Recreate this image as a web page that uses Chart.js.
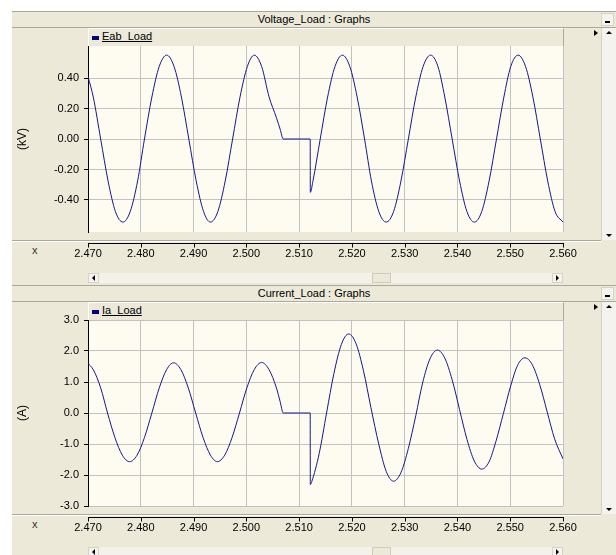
<!DOCTYPE html>
<html>
<head>
<meta charset="utf-8">
<script src="https://cdn.jsdelivr.net/npm/chart.js@4.4.0/dist/chart.umd.min.js"></script>
<style>
body { margin: 0; background: #fff; font-family: "Liberation Sans", Arial, sans-serif; font-size: 11px; color: #000; }
#win { position: absolute; left: 12px; top: 11px; width: 604px; height: 544px; background: #ece9d8; }
.a { position: absolute; }
.title { left: 12px; width: 604px; height: 15px; line-height: 15px; text-align: center;
  border-top: 1px solid #aca899; border-bottom: 1px solid #aca899; background: #ece9d8; }
.strip { left: 88px; width: 474px; height: 17px; border-top: 1px solid #fff; border-left: 1px solid #fff;
  border-right: 1px solid #aca899; background: #ece9d8; z-index: 2; }
.lgbox { width: 7px; height: 4px; background: #000080; z-index: 3; }
.lgtxt { text-decoration: underline; z-index: 3; }
.sep { left: 12px; width: 589px; height: 1px; background: #aca899; border-bottom: 1px solid #fff; }
.htrack { left: 88px; width: 475px; height: 10px; background: #f3f1e8; }
.btn { background: #f4f3ee; border: 1px solid #d6d3c6; box-sizing: border-box; }
.thumb { background: #ece9d8; border: 1px solid #cfccbf; box-sizing: border-box; }
.vtrack { left: 601px; width: 15px; height: 212px; background: #f4f3ee; border-left: 1px solid #d6d3c6; box-sizing: border-box; }
.tri { width: 0; height: 0; }
canvas { position: absolute; left: 12px; z-index: 1; }
</style>
</head>
<body>
<div id="win"></div>
<div id="chrome"></div>
<canvas id="vChart" width="590" height="234"></canvas>
<canvas id="iChart" width="590" height="234"></canvas>
<script>
// window titles and series names
const panelTitles = ['Voltage_Load : Graphs', 'Current_Load : Graphs'];
const seriesNames = ['Eab_Load', 'Ia_Load'];
const yTitles = ['(kV)', '(A)'];

// x axis (time, s)
const xTicks = [2.47, 2.48, 2.49, 2.50, 2.51, 2.52, 2.53, 2.54, 2.55, 2.56];

// Eab_Load (kV)
const vTime = [2.4700, 2.4710, 2.4724, 2.4738, 2.4752, 2.4766, 2.4780, 2.4794, 2.4807, 2.4821,
  2.4835, 2.4849, 2.4863, 2.4877, 2.4891, 2.4905, 2.4919, 2.4932, 2.4946, 2.4960,
  2.4974, 2.4988, 2.5002, 2.5015, 2.5029, 2.5043, 2.5057, 2.5064, 2.5070, 2.5121,
  2.51212, 2.5126, 2.5140, 2.5154, 2.5168, 2.5182, 2.5196, 2.5210, 2.5224, 2.5237,
  2.5251, 2.5265, 2.5279, 2.5293, 2.5307, 2.5321, 2.5335, 2.5349, 2.5363, 2.5376,
  2.5390, 2.5404, 2.5418, 2.5432, 2.5446, 2.5460, 2.5474, 2.5488, 2.5501, 2.5515,
  2.5529, 2.5543, 2.5557, 2.5571, 2.5585, 2.5600];
const vVals = [0.41, 0.275, 0, -0.275, -0.476, -0.545, -0.476, -0.275, 0, 0.275,
  0.476, 0.55, 0.476, 0.275, 0, -0.275, -0.476, -0.545, -0.476, -0.275,
  0, 0.275, 0.476, 0.55, 0.476, 0.277, 0.14, 0.065, 0, 0,
  -0.35, -0.28, 0, 0.275, 0.476, 0.55, 0.476, 0.275, 0, -0.275,
  -0.476, -0.545, -0.476, -0.275, 0, 0.275, 0.476, 0.55, 0.476, 0.275,
  0, -0.275, -0.476, -0.545, -0.476, -0.275, 0, 0.275, 0.476, 0.55,
  0.476, 0.275, 0, -0.275, -0.476, -0.545];
const vTicks = [0.4, 0.2, 0, -0.2, -0.4];

// Ia_Load (A)
const iTime = [2.4700, 2.4710, 2.4724, 2.4737, 2.4751, 2.4765, 2.4779, 2.4793, 2.4807, 2.4821,
  2.4835, 2.4849, 2.4862, 2.4876, 2.4890, 2.4904, 2.4918, 2.4932, 2.4945, 2.4959,
  2.4973, 2.4987, 2.5001, 2.5015, 2.5029, 2.5043, 2.5057, 2.5064, 2.5070, 2.5121,
  2.51212, 2.5124, 2.5138, 2.5152, 2.5166, 2.5180, 2.5194, 2.5208, 2.5222, 2.5236,
  2.5251, 2.5265, 2.5279, 2.5293, 2.5307, 2.5321, 2.5334, 2.5348, 2.5362, 2.5376,
  2.5390, 2.5404, 2.5418, 2.5432, 2.5446, 2.5460, 2.5473, 2.5487, 2.5501, 2.5514,
  2.5528, 2.5542, 2.5556, 2.5570, 2.5584, 2.5600];
const iVals = [1.60, 1.40, 0.81, 0, -0.79, -1.36, -1.57, -1.36, -0.79, 0,
  0.81, 1.40, 1.62, 1.40, 0.81, 0, -0.79, -1.36, -1.57, -1.36,
  -0.79, 0, 0.81, 1.40, 1.63, 1.40, 0.81, 0.37, 0, 0,
  -2.31, -2.21, -1.31, 0, 1.28, 2.21, 2.55, 2.23, 1.36, 0.18,
  -1.01, -1.88, -2.20, -1.92, -1.14, -0.09, 0.97, 1.75, 2.03, 1.77,
  1.07, 0.11, -0.85, -1.55, -1.81, -1.57, -0.91, -0.02, 0.88, 1.54,
  1.78, 1.55, 0.91, 0.04, -0.83, -1.48];
const iTicks = [3, 2, 1, 0, -1, -2, -3];

const panelOffsets = [0, 274];

function buildChrome() {
    let html = '';
    panelOffsets.forEach((dy, p) => {
        html += `<div class="a title" style="top:${11 + dy}px">${panelTitles[p]}</div>`;
        html += `<div class="a btn" style="left:601px;top:${13 + dy}px;width:13px;height:13px;"></div>`;
        html += `<div class="a" style="left:605px;top:${21 + dy}px;width:5px;height:2px;background:#000;"></div>`;
        html += `<div class="a strip" style="top:${28 + dy}px"></div>`;
        html += `<div class="a lgbox" style="left:92px;top:${36 + dy}px"></div>`;
        html += `<div class="a lgtxt" style="left:102px;top:${30 + dy}px">${seriesNames[p]}</div>`;
        html += `<div class="a tri" style="left:594px;top:${30 + dy}px;border-left:4px solid #000;border-top:3px solid transparent;border-bottom:3px solid transparent;"></div>`;
        // vertical scrollbar
        html += `<div class="a vtrack" style="top:${28 + dy}px"></div>`;
        html += `<div class="a tri" style="left:606px;top:${31 + dy}px;border-bottom:3px solid #000;border-left:3px solid transparent;border-right:3px solid transparent;"></div>`;
        html += `<div class="a tri" style="left:606px;top:${234 + dy}px;border-top:3px solid #000;border-left:3px solid transparent;border-right:3px solid transparent;"></div>`;
        html += `<div class="a sep" style="top:${240 + dy}px"></div>`;
        html += `<div class="a" style="left:32px;top:${244 + dy}px;color:#333;">x</div>`;
        // horizontal scrollbar
        html += `<div class="a htrack" style="top:${273 + dy}px"></div>`;
        html += `<div class="a btn" style="left:88px;top:${273 + dy}px;width:11px;height:10px;"></div>`;
        html += `<div class="a tri" style="left:92px;top:${275 + dy}px;border-right:3px solid #000;border-top:3px solid transparent;border-bottom:3px solid transparent;"></div>`;
        html += `<div class="a thumb" style="left:372px;top:${273 + dy}px;width:19px;height:10px;"></div>`;
        html += `<div class="a btn" style="left:552px;top:${273 + dy}px;width:11px;height:10px;"></div>`;
        html += `<div class="a tri" style="left:556px;top:${275 + dy}px;border-left:3px solid #000;border-top:3px solid transparent;border-bottom:3px solid transparent;"></div>`;
    });
    document.getElementById('chrome').innerHTML = html;
}

const plotBg = {
    id: 'plotBg',
    beforeDraw(chart) {
        const { ctx, chartArea: a } = chart;
        ctx.save();
        ctx.fillStyle = '#fefcf1';
        ctx.fillRect(a.left, a.top, a.right - a.left, a.bottom - a.top);
        ctx.restore();
    }
};

// the time axis line sits a little below the plot, like the original
const timeAxis = {
    id: 'timeAxis',
    afterDraw(chart) {
        const { ctx, chartArea: a, scales } = chart;
        const y = Math.round(a.bottom + 11) + 0.5;
        ctx.save();
        ctx.strokeStyle = '#000';
        ctx.lineWidth = 1;
        ctx.beginPath();
        ctx.moveTo(a.left, y);
        ctx.lineTo(a.right + 1, y);
        scales.x.ticks.forEach((t, i) => {
            const px = Math.round(scales.x.getPixelForTick(i)) + 0.5;
            ctx.moveTo(px, y);
            ctx.lineTo(px, y + 4);
        });
        ctx.stroke();
        ctx.restore();
    }
};

function makeChart(id, times, vals, name, yMin, yMax, yTicks, digits, yTitle) {
    const ctx = document.getElementById(id).getContext('2d');
    return new Chart(ctx, {
        type: 'line',
        data: {
            datasets: [{
                label: name,
                data: times.map((t, i) => ({ x: t, y: vals[i] })),
                borderColor: '#16168c',
                borderWidth: 1,
                pointRadius: 0,
                fill: false,
                cubicInterpolationMode: 'monotone'
            }]
        },
        options: {
            responsive: false,
            animation: false,
            devicePixelRatio: 1,
            layout: { padding: { top: 18, right: 39, bottom: 0, left: 0 } },
            plugins: { legend: { display: false }, tooltip: { enabled: false } },
            scales: {
                x: {
                    type: 'linear',
                    min: 2.47,
                    max: 2.56,
                    afterBuildTicks: s => { s.ticks = xTicks.map(v => ({ value: v })); },
                    afterFit: s => { s.height = 30; },
                    ticks: { callback: v => v.toFixed(3), padding: 15, maxRotation: 0, autoSkip: false, color: '#000' },
                    grid: { color: '#c2c2c2', drawTicks: false },
                    border: { display: false }
                },
                y: {
                    min: yMin,
                    max: yMax,
                    afterBuildTicks: s => { s.ticks = yTicks.map(v => ({ value: v })); },
                    afterFit: s => { s.width = 76; },
                    ticks: { callback: v => v.toFixed(digits), padding: 5, color: '#000' },
                    grid: { color: '#c2c2c2', tickColor: '#000', tickLength: 4 },
                    border: { color: '#000' },
                    title: { display: true, text: yTitle, color: '#000', font: { size: 12 }, padding: { top: 3, bottom: 0 } }
                }
            }
        },
        plugins: [plotBg, timeAxis]
    });
}

Chart.defaults.font.family = "'Liberation Sans', Arial, sans-serif";
Chart.defaults.font.size = 11;

buildChrome();
document.getElementById('vChart').style.top = (28 + panelOffsets[0]) + 'px';
document.getElementById('iChart').style.top = (28 + panelOffsets[1]) + 'px';
makeChart('vChart', vTime, vVals, seriesNames[0], -0.61, 0.61, vTicks, 2, yTitles[0]);
makeChart('iChart', iTime, iVals, seriesNames[1], -3, 3, iTicks, 1, yTitles[1]);
</script>
</body>
</html>
